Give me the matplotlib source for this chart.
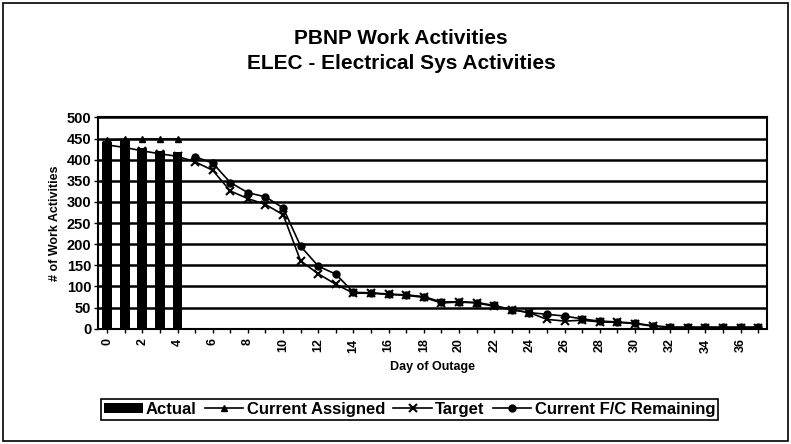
import numpy as np
import matplotlib
matplotlib.use("Agg")
import matplotlib.pyplot as plt
from matplotlib.patches import Rectangle

plt.rcParams['font.family'] = ['Liberation Sans', 'DejaVu Sans']

days = list(range(38))
actual_days = [0, 1, 2, 3, 4]
actual = [442, 446, 427, 421, 419]
nan = np.nan
current_assigned = [446, 448, 449, 449, 449] + [nan] * 33
target = [435, 429, 421, 414, 408, 395, 375, 326, 308, 294, 270, 160, 130, 105,
          84, 84, 81, 79, 74, 61, 63, 61, 53, 45, 38, 22, 18, 20, 16, 15, 12, 6,
          2, 2, 2, 2, 2, 2]
fc_remaining = [nan] * 5 + [407, 392, 346, 322, 312, 286, 195, 148, 129, 86, 85,
                            82, 80, 76, 63, 64, 62, 55, 45, 38, 34, 30, 23, 18,
                            16, 13, 7, 4, 4, 4, 4, 4, 4]
xtick_labels = [str(d) for d in range(0, 37, 2)]

fig = plt.figure(figsize=(7.91, 4.44), dpi=100)
fig.patch.set_facecolor('white')
fig.add_artist(Rectangle((0.004, 0.007), 0.992, 0.986, transform=fig.transFigure,
                         fill=False, edgecolor='black', linewidth=1.2))

ax = fig.add_axes([0.1243, 0.2597, 0.8454, 0.4757])
ax.set_xlim(-0.5, 37.5)
ax.set_ylim(0, 500)
ax.set_yticks(range(0, 501, 50))
for y in range(50, 501, 50):
    ax.axhline(y, color='black', linewidth=1.8, zorder=1)

bars = ax.bar(actual_days, actual, width=0.55, color='black', zorder=2, label='Actual')
l1, = ax.plot(days, current_assigned, color='black', lw=1.2, marker='^', ms=5,
              zorder=3, label='Current Assigned')
l2, = ax.plot(days, target, color='black', lw=1.2, marker='x', ms=6, mew=1.5,
              zorder=3, label='Target')
l3, = ax.plot(days, fc_remaining, color='black', lw=1.2, marker='o', ms=5,
              zorder=3, label='Current F/C Remaining')

ax.set_xticks(range(0, 37, 2))
ax.set_xticklabels(xtick_labels, rotation=90, fontsize=9, fontweight='bold')
ax.set_xticks(days, minor=True)
ax.tick_params(axis='x', which='both', direction='out', length=3, width=1, pad=4)
ax.tick_params(axis='y', direction='out', length=3, width=1, labelsize=10.5, pad=2)
for lbl in ax.get_yticklabels():
    lbl.set_fontweight('bold')
for s in ax.spines.values():
    s.set_linewidth(1.5)

ax.set_xlabel('Day of Outage', fontsize=9, fontweight='bold', labelpad=6)
ax.set_ylabel('# of Work Activities', fontsize=9, fontweight='bold', labelpad=4)

fig.text(0.507, 0.914, 'PBNP Work Activities', ha='center', va='center',
         fontsize=15, fontweight='bold')
fig.text(0.507, 0.858, 'ELEC - Electrical Sys Activities', ha='center', va='center',
         fontsize=15, fontweight='bold')

leg = fig.legend([bars, l1, l2, l3],
                 ['Actual', 'Current Assigned', 'Target', 'Current F/C Remaining'],
                 loc='center', bbox_to_anchor=(0.518, 0.078), ncol=4,
                 prop={'size': 12, 'weight': 'bold'}, frameon=True, fancybox=False,
                 handlelength=2.3, handleheight=0.6, handletextpad=0.2,
                 columnspacing=0.5, borderpad=0.2, borderaxespad=0,
                 edgecolor='black', framealpha=1)
leg.get_frame().set_linewidth(1.2)

fig.savefig('out.png', dpi=100, facecolor='white')
